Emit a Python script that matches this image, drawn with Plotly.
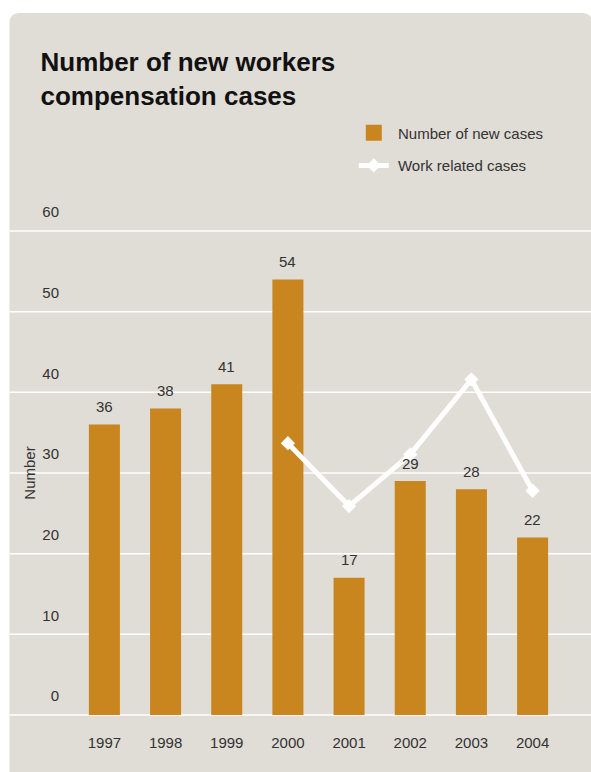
import plotly.graph_objects as go

# Data
years = ["1997", "1998", "1999", "2000", "2001", "2002", "2003", "2004"]
new_cases = [36, 38, 41, 54, 17, 29, 28, 22]
work_years = ["2000", "2001", "2002", "2003", "2004"]
work_related = [33.7, 25.9, 32.3, 41.6, 27.8]
y_ticks = [0, 10, 20, 30, 40, 50, 60]
y_max = 60

# Page geometry (pixels)
W, H = 591, 772
ML, MR, MT, MB = 64, 0, 231, 57
PW, PH = W - ML - MR, H - MT - MB


def px(x):
    """Page x pixel -> paper fraction."""
    return (x - ML) / PW


def py(y):
    """Page y pixel (from top) -> paper fraction."""
    return (H - MB - y) / PH


BAR = "#C9861F"
PANEL = "#E0DCD6"
TEXT = "#333333"
FONT = "Liberation Sans, Arial, Helvetica, sans-serif"

fig = go.Figure()

fig.add_trace(go.Bar(
    x=years, y=new_cases,
    marker=dict(color=BAR, line=dict(width=0)),
    showlegend=False, hoverinfo="skip",
))

# square swatch for the bar series in the legend
fig.add_trace(go.Scatter(
    x=[None], y=[None], mode="markers",
    marker=dict(symbol="square", size=16, color=BAR),
    name="\u00a0Number of new cases", legend="legend",
))

fig.add_trace(go.Scatter(
    x=work_years, y=work_related, mode="lines+markers",
    line=dict(color="white", width=5),
    marker=dict(symbol="diamond", size=11, color="white", line=dict(width=0)),
    name="\u00a0Work related cases", legend="legend2", hoverinfo="skip",
))

# value labels above the bars (x given as category index)
for i, v in enumerate(new_cases):
    fig.add_annotation(
        x=i, y=v, xref="x", yref="y", text=str(v), showarrow=False, yshift=18,
        font=dict(family=FONT, size=15, color=TEXT),
    )

shapes = []
# rounded background panel
x0, x1 = px(9.5), px(592)
yt, yb = py(13), py(780)
rx, ry = 10 / PW, 10 / PH
panel_path = (
    f"M {x0},{yb} L {x0},{yt - ry} Q {x0},{yt} {x0 + rx},{yt} "
    f"L {x1 - rx},{yt} Q {x1},{yt} {x1},{yt - ry} L {x1},{yb} Z"
)
shapes.append(dict(type="path", path=panel_path, xref="paper", yref="paper",
                   fillcolor=PANEL, line=dict(width=0), layer="below"))
# horizontal gridlines across the whole panel
for v in y_ticks:
    shapes.append(dict(type="line", xref="paper", yref="paper",
                       x0=px(9.5), x1=px(592), y0=v / y_max, y1=v / y_max,
                       line=dict(color="white", width=1.5), layer="below"))

fig.update_layout(
    width=W, height=H,
    margin=dict(l=ML, r=MR, t=MT, b=MB, pad=0),
    paper_bgcolor="white",
    plot_bgcolor="rgba(0,0,0,0)",
    font=dict(family=FONT, size=15, color=TEXT),
    hovermode=False,
    bargap=0.493,
    shapes=shapes,
    title=dict(
        text="<b>Number of new workers<br>compensation cases</b>",
        font=dict(family=FONT, size=26, color="#111111"),
        x=40.5 / W, xref="container", xanchor="left",
        y=1 - 71 / H, yref="container", yanchor="top",
    ),
    xaxis=dict(
        type="category", range=[-0.6604, 7.955],
        showgrid=False, zeroline=False, showline=False, ticks="",
        ticklabelstandoff=17, tickfont=dict(size=15, color=TEXT),
        fixedrange=True,
    ),
    yaxis=dict(
        range=[0, y_max], tickvals=y_ticks,
        showgrid=False, zeroline=False, showline=False, ticks="",
        ticklabelshift=-19, ticklabelstandoff=4,
        tickfont=dict(size=15, color=TEXT),
        title=dict(text="Number", standoff=3, font=dict(size=15, color=TEXT)),
        fixedrange=True,
    ),
    legend=dict(
        x=px(353.8), y=py(133), xanchor="left", yanchor="middle",
        bgcolor="rgba(0,0,0,0)", borderwidth=0, itemwidth=30,
        font=dict(size=15, color=TEXT),
    ),
    legend2=dict(
        x=px(353.8), y=py(165.7), xanchor="left", yanchor="middle",
        bgcolor="rgba(0,0,0,0)", borderwidth=0, itemwidth=30,
        font=dict(size=15, color=TEXT),
    ),
)

fig.write_html("out.html", config={"displayModeBar": False})
